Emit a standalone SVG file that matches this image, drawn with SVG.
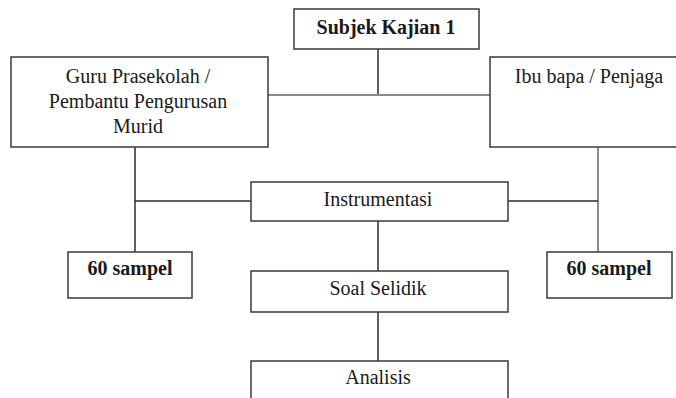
<svg xmlns="http://www.w3.org/2000/svg" width="676" height="398" viewBox="0 0 676 398">
  <style>
    .box { fill: #ffffff; stroke: #3a3a3a; stroke-width: 1.5; }
    .lbl { font-family: "Liberation Serif", "Times New Roman", serif; font-size: 20px; fill: #1a1a1a; text-anchor: middle; }
    .b { font-weight: bold; }
    .ln { stroke: #2a2a2a; stroke-width: 1.5; fill: none; }
    .gl { stroke: #8a8a8a; stroke-width: 2; fill: none; }
  </style>
  <rect width="676" height="398" fill="#ffffff"/>

  <!-- connectors -->
  <g id="connectors">
    <line class="ln" x1="378" y1="49" x2="378" y2="95"/>
    <line class="gl" x1="268" y1="95" x2="490" y2="95"/>
    <line class="ln" x1="135" y1="147" x2="135" y2="252"/>
    <line class="ln" x1="135" y1="201" x2="251" y2="201"/>
    <line class="gl" x1="598" y1="147" x2="598" y2="252"/>
    <line class="ln" x1="508" y1="201" x2="598" y2="201"/>
    <line class="ln" x1="378" y1="221" x2="378" y2="271"/>
    <line class="ln" x1="378" y1="312" x2="378" y2="361"/>
  </g>

  <g id="subjek">
    <rect class="box" x="294" y="9" width="185" height="40"/>
    <text class="lbl b" x="386" y="34">Subjek Kajian 1</text>
  </g>

  <g id="guru">
    <rect class="box" x="11" y="57" width="257" height="90"/>
    <text class="lbl" x="138" y="83">Guru Prasekolah /</text>
    <text class="lbl" x="138" y="108">Pembantu Pengurusan</text>
    <text class="lbl" x="138" y="133">Murid</text>
  </g>

  <g id="ibubapa">
    <rect class="box" x="490" y="57" width="200" height="90"/>
    <text class="lbl" x="589" y="83">Ibu bapa / Penjaga</text>
  </g>

  <g id="instrumentasi">
    <rect class="box" x="251" y="182" width="257" height="39"/>
    <text class="lbl" x="378" y="206">Instrumentasi</text>
  </g>

  <g id="sampel-kiri">
    <rect class="box" x="68" y="252" width="124" height="46"/>
    <text class="lbl b" x="130" y="275">60 sampel</text>
  </g>

  <g id="sampel-kanan">
    <rect class="box" x="547" y="252" width="125" height="46"/>
    <text class="lbl b" x="609" y="275">60 sampel</text>
  </g>

  <g id="soal-selidik">
    <rect class="box" x="251" y="271" width="257" height="41"/>
    <text class="lbl" x="378" y="295">Soal Selidik</text>
  </g>

  <g id="analisis">
    <rect class="box" x="251" y="361" width="257" height="50"/>
    <text class="lbl" x="378" y="384">Analisis</text>
  </g>
</svg>
